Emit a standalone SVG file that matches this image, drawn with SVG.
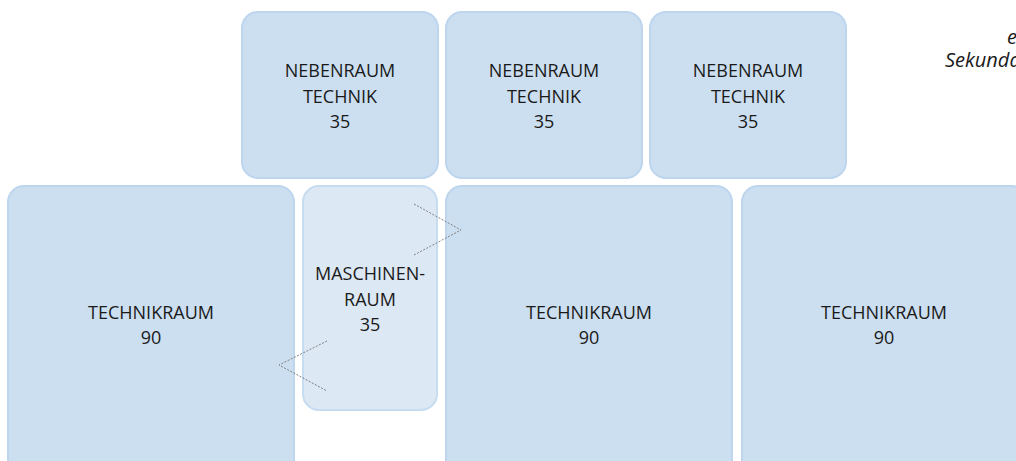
<svg xmlns="http://www.w3.org/2000/svg" width="1016" height="461" viewBox="0 0 1016 461">
<style>
.box{fill:#ccdff0;stroke:#bdd6ee;stroke-width:2}
.lite{fill:#dce8f4;stroke:#c6dcf0;stroke-width:2}
.t{font-family:"Open Sans","Noto Sans",sans-serif;font-size:18px;fill:#1a1a1a;text-anchor:middle}
.n{font-family:"Open Sans","Noto Sans",sans-serif;font-size:20px;fill:#1a1a1a;font-style:italic}
.c{fill:none;stroke:#808080;stroke-width:1;stroke-dasharray:2 1.5}
</style>
<rect width="1016" height="461" fill="#ffffff"/>
<g id="neben1"><rect class="box" x="242" y="12" width="196" height="166" rx="16"/><text class="t" x="340" y="77">NEBENRAUM</text><text class="t" x="340" y="103">TECHNIK</text><text class="t" x="340" y="128">35</text></g>
<g id="neben2"><rect class="box" x="446" y="12" width="196" height="166" rx="16"/><text class="t" x="544" y="77">NEBENRAUM</text><text class="t" x="544" y="103">TECHNIK</text><text class="t" x="544" y="128">35</text></g>
<g id="neben3"><rect class="box" x="650" y="12" width="196" height="166" rx="16"/><text class="t" x="748" y="77">NEBENRAUM</text><text class="t" x="748" y="103">TECHNIK</text><text class="t" x="748" y="128">35</text></g>
<g id="technik1"><rect class="box" x="8" y="186" width="286" height="290" rx="16"/><text class="t" x="151" y="319">TECHNIKRAUM</text><text class="t" x="151" y="344">90</text></g>
<g id="maschinen"><rect class="lite" x="303" y="186" width="134" height="224" rx="16"/><text class="t" x="370" y="280">MASCHINEN-</text><text class="t" x="370" y="306">RAUM</text><text class="t" x="370" y="331">35</text></g>
<g id="technik2"><rect class="box" x="446" y="186" width="286" height="290" rx="16"/><text class="t" x="589" y="319">TECHNIKRAUM</text><text class="t" x="589" y="344">90</text></g>
<g id="technik3"><rect class="box" x="742" y="186" width="286" height="290" rx="16"/><text class="t" x="884" y="319">TECHNIKRAUM</text><text class="t" x="884" y="344">90</text></g>
<g id="note"><text class="n" x="1007" y="44">e</text><text class="n" x="945" y="67">Sekunda</text></g>
<g id="connectors">
<polyline class="c" points="414,204 461,230 414,255"/>
<polyline class="c" points="327,341 279,365 327,391"/>
</g>
</svg>
